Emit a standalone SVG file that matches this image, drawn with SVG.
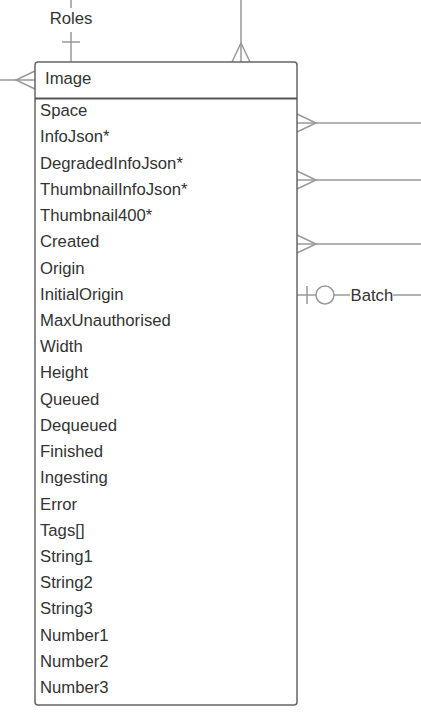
<svg xmlns="http://www.w3.org/2000/svg" width="421" height="722" viewBox="0 0 421 722">
<style>
.c{stroke:#999;stroke-width:1.5;fill:none}
.t{font-family:"Liberation Sans",Arial,sans-serif;font-size:16.7px;fill:#333}
.box{fill:#fff;stroke:#666;stroke-width:1.5}
</style>
<rect width="421" height="722" fill="#fff"/>
<g id="connectors">
<line class="c" x1="71" y1="0" x2="71" y2="8"/>
<text class="t" x="71" y="24" text-anchor="middle">Roles</text>
<line class="c" x1="71" y1="32" x2="71" y2="62"/>
<line class="c" x1="62" y1="42" x2="80" y2="42"/>
<line class="c" x1="241" y1="0" x2="241" y2="62"/>
<polyline class="c" points="232,62 241,43 250,62"/>
<line class="c" x1="0" y1="80" x2="35" y2="80"/>
<polyline class="c" points="35,71 16,80 35,89"/>
<line class="c" x1="297" y1="123" x2="421" y2="123"/>
<polyline class="c" points="297,114 316,123 297,132"/>
<line class="c" x1="297" y1="180" x2="421" y2="180"/>
<polyline class="c" points="297,171 316,180 297,189"/>
<line class="c" x1="297" y1="244" x2="421" y2="244"/>
<polyline class="c" points="297,235 316,244 297,253"/>
<line class="c" x1="297" y1="295" x2="316" y2="295"/>
<line class="c" x1="307" y1="286" x2="307" y2="304"/>
<circle class="c" cx="325" cy="295" r="9"/>
<line class="c" x1="334" y1="295" x2="350" y2="295"/>
<text class="t" x="350.5" y="300.5">Batch</text>
<line class="c" x1="393" y1="295" x2="421" y2="295"/>
</g>
<g id="image">
<rect class="box" x="35" y="62" width="262" height="643" rx="3"/>
<line x1="35" y1="98.5" x2="297" y2="98.5" stroke="#555" stroke-width="2"/>
<text class="t" x="45" y="84">Image</text>
<text class="t" x="40" y="116">Space</text>
<text class="t" x="40" y="142">InfoJson*</text>
<text class="t" x="40" y="169">DegradedInfoJson*</text>
<text class="t" x="40" y="195">ThumbnailInfoJson*</text>
<text class="t" x="40" y="221">Thumbnail400*</text>
<text class="t" x="40" y="247">Created</text>
<text class="t" x="40" y="274">Origin</text>
<text class="t" x="40" y="300">InitialOrigin</text>
<text class="t" x="40" y="326">MaxUnauthorised</text>
<text class="t" x="40" y="352">Width</text>
<text class="t" x="40" y="378">Height</text>
<text class="t" x="40" y="405">Queued</text>
<text class="t" x="40" y="431">Dequeued</text>
<text class="t" x="40" y="457">Finished</text>
<text class="t" x="40" y="483">Ingesting</text>
<text class="t" x="40" y="510">Error</text>
<text class="t" x="40" y="536">Tags[]</text>
<text class="t" x="40" y="562">String1</text>
<text class="t" x="40" y="588">String2</text>
<text class="t" x="40" y="614">String3</text>
<text class="t" x="40" y="641">Number1</text>
<text class="t" x="40" y="667">Number2</text>
<text class="t" x="40" y="693">Number3</text>
</g>
</svg>
